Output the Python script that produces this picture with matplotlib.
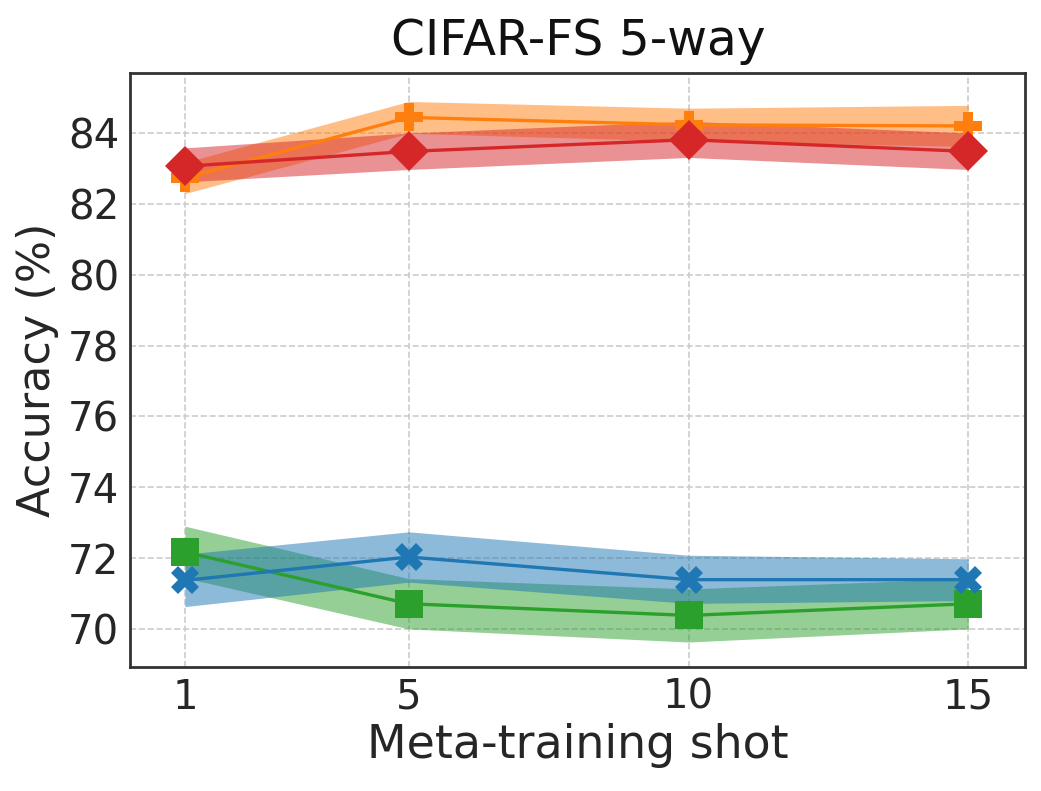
import matplotlib

matplotlib.use("Agg")
import matplotlib.pyplot as plt

# Meta-training shots on the x axis
shots = [1, 5, 10, 15]

# mean accuracy (%) and band limits
green_mean = [72.17, 70.71, 70.38, 70.71]
green_low = [71.44, 70.00, 69.63, 70.00]
green_high = [72.90, 71.42, 71.13, 71.42]

blue_mean = [71.37, 72.03, 71.39, 71.39]
blue_low = [70.63, 71.32, 70.72, 70.80]
blue_high = [72.11, 72.74, 72.08, 71.98]

orange_mean = [82.73, 84.44, 84.23, 84.20]
orange_low = [82.29, 83.99, 83.77, 83.62]
orange_high = [83.17, 84.89, 84.70, 84.78]

red_mean = [83.06, 83.48, 83.81, 83.48]
red_low = [82.62, 82.97, 83.31, 82.97]
red_high = [83.58, 84.00, 84.33, 84.00]

series = [
    (green_mean, green_low, green_high, "tab:green", "s"),
    (blue_mean, blue_low, blue_high, "tab:blue", "X"),
    (orange_mean, orange_low, orange_high, "tab:orange", "P"),
    (red_mean, red_low, red_high, "tab:red", "D"),
]

plt.rcParams["font.family"] = "DejaVu Sans"

fig = plt.figure(figsize=(10.41, 7.91), dpi=100)
ax = fig.add_axes([0.125, 0.157, 0.860, 0.751])

for mean, low, high, color, marker in series:
    ax.fill_between(shots, low, high, color=color, alpha=0.5, linewidth=0)
    ax.plot(shots, mean, color=color, marker=marker, markersize=20,
            linewidth=2.4, markeredgewidth=0)

ax.set_xlim(0.02, 16.02)
ax.set_ylim(68.93, 85.7)
ax.set_xticks(shots)
ax.set_yticks([70, 72, 74, 76, 78, 80, 82, 84])
ax.tick_params(axis="both", labelsize=29, length=0, pad=8, colors="#262626")

ax.grid(True, linestyle="--", color="#cccccc", linewidth=1.2)
ax.set_axisbelow(True)
for spine in ax.spines.values():
    spine.set_color("#333333")
    spine.set_linewidth(2)

ax.set_xlabel("Meta-training shot", fontsize=33, color="#262626", labelpad=4)
ax.set_ylabel("Accuracy (%)", fontsize=32, color="#262626", labelpad=6)
ax.set_title("CIFAR-FS 5-way", fontsize=35, color="#111111", pad=13)

fig.savefig("out.png", dpi=100)
plt.close(fig)
